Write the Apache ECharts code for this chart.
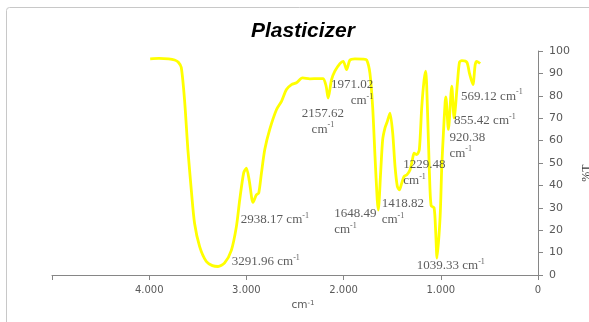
<!DOCTYPE html>
<html><head><meta charset="utf-8">
<script src="https://cdn.jsdelivr.net/npm/echarts@6/dist/echarts.min.js"></script>
<style>html,body{margin:0;padding:0;background:#fff}#c{width:589px;height:322px}</style>
</head><body><div id="c"></div>
<script>
// Spectrum (wavenumber cm-1, %T)
const wavenumbers = [3990,3900,3800,3739,3700,3670,3636,3602,3567,3533,3481,3412,3350,3292,3224,3155,3103,3069,3028,3000,2970,2932,2897,2873,2845,2811,2760,2691,2639,2588,2536,2485,2423,2347,2260,2210,2180,2159,2124,2090,2038,2004,1969,1935,1884,1800,1763,1729,1701,1677,1654,1643,1619,1598,1574,1550,1523,1495,1471,1447,1426,1402,1378,1350,1316,1292,1275,1247,1221,1196,1172,1155,1138,1117,1100,1069,1052,1039,1007,990,973,956,948,922,887,863,829,808,784,732,705,670,646,629,595];
const transmittance = [96.5,96.7,96.5,96,95,92.6,78,56,38,23,12.7,6,4.2,3.8,5.4,11,21.6,33.5,45.6,47.7,42,32.4,35.8,36.6,45.6,56,65,73.8,77.5,82.8,85,85.8,88,87.6,87.7,87.7,84.3,79,87.2,91,94.4,95.4,91.7,95.9,96.5,96.4,96,90,75,53,33.6,29,45.6,60.4,65.7,68.6,72.3,63.4,48.5,39.5,38,41,44,44.7,47,51.5,54.4,53.7,56,75,87,91,75,45.5,31,30,18.8,7.5,26,48.5,63.4,76.8,79.5,65,84.3,70,85.8,95,95.7,95,90,85,94,95.4,94.4];
// Peak annotations: anchor (wavenumber, %T) and text
const annoWn = [3150,3057,2213,1695,2097,1608,1386,1247,911,863,791];
const annoT = [5.8,24.6,68.6,81.3,23.8,28.3,45.7,4.0,58.0,69.0,79.8];
const annoText = ['3291.96 cm{s|-1}','2938.17 cm{s|-1}','2157.62\ncm{s|-1}','1971.02\ncm{s|-1}','1648.49\ncm{s|-1}','1418.82\ncm{s|-1}','1229.48\ncm{s|-1}','1039.33 cm{s|-1}','920.38\ncm{s|-1}','855.42 cm{s|-1}','569.12 cm{s|-1}'];
const annoAlign = ['left','left','center','right','left','left','left','left','left','left','left'];
const xTicks = [0,1000,2000,3000,4000];

const chart = echarts.init(document.getElementById('c'));
const lineData = wavenumbers.map((w,i)=>[w, transmittance[i]]);
const annoData = annoWn.map((w,i)=>({value:[w, annoT[i]], label:{align:annoAlign[i], formatter:annoText[i]}}));
chart.setOption({
  backgroundColor:'#fff',
  animation:false,
  graphic:[{type:'rect', shape:{x:6.5,y:7.5,width:620,height:340,r:3}, style:{fill:'none',stroke:'#c8c8c8',lineWidth:1}, z:-1}],
  title:{text:'Plasticizer', left:246, top:16, textStyle:{fontFamily:'Liberation Sans', fontStyle:'italic', fontWeight:'bold', fontSize:21, color:'#000'}},
  grid:{left:52, right:51, top:51, bottom:47, containLabel:false, outerBoundsMode:'none'},
  xAxis:{type:'value', inverse:true, min:0, max:5000, interval:1000,
    axisLine:{show:true, onZero:false, lineStyle:{color:'#868686', width:1}},
    axisTick:{show:true, length:5, lineStyle:{color:'#868686'}},
    splitLine:{show:false},
    axisLabel:{margin:10, fontFamily:'DejaVu Sans', fontSize:10, color:'#595959',
      formatter:v=> xTicks.indexOf(v)<0 ? '' : (v===0?'0':(v/1000).toFixed(0)+'.000')},
    name:'cm{s|-1}', nameLocation:'middle', nameGap:25,
    nameTextStyle:{fontFamily:'DejaVu Sans', fontSize:10.5, color:'#595959', padding:[0,0,0,16], rich:{s:{fontSize:7, lineHeight:8, verticalAlign:'top', color:'#595959', fontFamily:'DejaVu Sans'}}}
  },
  yAxis:{type:'value', position:'right', min:0, max:100, interval:10,
    axisLine:{show:true, lineStyle:{color:'#868686', width:1}},
    axisTick:{show:true, length:5, lineStyle:{color:'#868686'}},
    splitLine:{show:false},
    axisLabel:{margin:11, fontFamily:'DejaVu Sans', fontSize:11, color:'#595959'},
    name:'%T', nameLocation:'middle', nameGap:37, nameRotate:90,
    nameTextStyle:{fontFamily:'Liberation Serif', fontSize:12, color:'#333', padding:[0,20,0,0]}
  },
  series:[
    {type:'line', data:lineData, smooth:0.25, showSymbol:false, symbol:'none',
     lineStyle:{color:'#ffff00', width:2.8}, z:2},
    {type:'scatter', data:annoData, symbolSize:0, silent:true, z:5,
     label:{show:true, position:[0,0], verticalAlign:'middle', fontFamily:'Liberation Serif', fontSize:13, color:'#333', lineHeight:16,
       rich:{s:{fontSize:8, lineHeight:8, verticalAlign:'top', color:'#333', fontFamily:'Liberation Serif'}}}}
  ]
});
</script></body></html>
